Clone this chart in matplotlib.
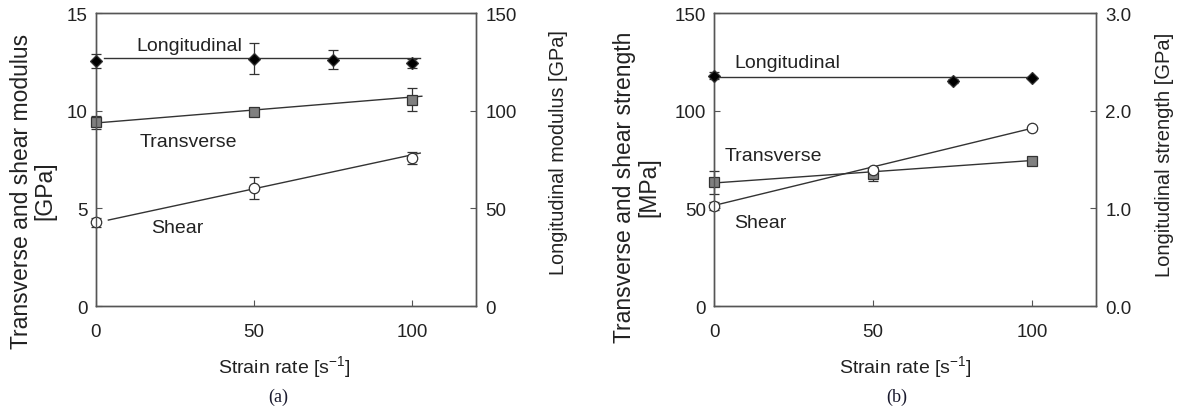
import matplotlib.pyplot as plt
import numpy as np

plt.rcParams['font.family'] = ['Liberation Sans', 'DejaVu Sans']

# ---- data: panel (a) moduli ----
rate = [0, 50, 100]
rate_long = [0, 50, 75, 100]

long_mod = [125.4, 126.6, 126.1, 124.2]        # GPa (right axis)
long_mod_err = [3.5, 7.9, 5.0, 2.5]
trans_mod = [9.40, 9.95, 10.56]                 # GPa (left axis)
trans_mod_err = [0.33, 0.20, 0.60]
shear_mod = [4.28, 6.04, 7.56]
shear_mod_err = [0.22, 0.55, 0.30]

# trend lines (a)
long_mod_fit_x = [2.5, 102.5]
long_mod_fit_y = [127.0, 127.0]
trans_mod_fit_x = [0, 103]
trans_mod_fit_y = [9.37, 10.74]
shear_mod_fit_x = [4, 102.5]
shear_mod_fit_y = [4.40, 7.83]

# ---- data: panel (b) strengths ----
rate_long_b = [0, 75, 100]
long_str = [2.36, 2.30, 2.33]                   # GPa (right axis)
long_str_err = [0.035, 0.02, 0.01]
trans_str = [63.3, 67.6, 74.4]                  # MPa (left axis)
trans_str_err = [6.0, 3.5, 1.0]
shear_str = [51.0, 69.6, 91.1]
shear_str_err = [2.0, 1.0, 0.8]

long_str_fit_x = [0, 100]
long_str_fit_y = [2.34, 2.34]
trans_str_fit_x = [0, 100]
trans_str_fit_y = [63.0, 74.5]
shear_str_fit_x = [0, 100]
shear_str_fit_y = [51.5, 91.0]

xticks = [0, 50, 100]

line_c = '#333333'
spine_c = '#555555'
text_c = '#222222'

fig = plt.figure(figsize=(11.8, 4.1), dpi=100)
ax1 = fig.add_axes([0.0811, 0.2512, 0.3220, 0.7146])
ax2 = fig.add_axes([0.6053, 0.2512, 0.3232, 0.7146])
ax1r = ax1.twinx()
ax2r = ax2.twinx()


def style(ax, axr, ylim, ylim_r, yticks, yticks_r, fmt_r):
    ax.set_xlim(0, 120)
    ax.set_ylim(*ylim)
    axr.set_ylim(*ylim_r)
    ax.set_xticks(xticks)
    ax.set_yticks(yticks)
    axr.set_yticks(yticks_r)
    axr.set_yticklabels([fmt_r % v for v in yticks_r])
    for a in (ax, axr):
        for s in a.spines.values():
            s.set_color(spine_c)
            s.set_linewidth(1.0)
        a.tick_params(direction='in', length=4, width=0.8, color=spine_c,
                      labelsize=13.5, labelcolor=text_c)
    ax.tick_params(axis='x', pad=12)
    ax.tick_params(axis='y', pad=6)
    axr.tick_params(axis='y', pad=7)


def series(ax, x, y, err, marker, fc, ms):
    eb = ax.errorbar(x, y, yerr=err, fmt=marker, ls='none', mfc=fc, mec=line_c,
                     ms=ms, mew=0.9, ecolor=line_c, elinewidth=0.9, capsize=3.5,
                     capthick=0.9, zorder=3)
    for art in eb.get_children():
        art.set_clip_on(False)


# panel (a)
ax1r.plot(long_mod_fit_x, long_mod_fit_y, color=line_c, lw=1.0, zorder=2)
ax1.plot(trans_mod_fit_x, trans_mod_fit_y, color=line_c, lw=1.0, zorder=2)
ax1.plot(shear_mod_fit_x, shear_mod_fit_y, color=line_c, lw=1.0, zorder=2)
series(ax1r, rate_long, long_mod, long_mod_err, 'D', 'black', 6)
series(ax1, rate, trans_mod, trans_mod_err, 's', '#808080', 7)
series(ax1, rate, shear_mod, shear_mod_err, 'o', 'white', 7.5)
style(ax1, ax1r, (0, 15), (0, 150), [0, 5, 10, 15], [0, 50, 100, 150], '%d')

ax1.text(12.75, 13.33, 'Longitudinal', fontsize=14, color=text_c, va='center')
ax1.text(14.0, 8.40, 'Transverse', fontsize=14, color=text_c, va='center')
ax1.text(17.5, 4.04, 'Shear', fontsize=14, color=text_c, va='center')

# panel (b)
ax2r.plot(long_str_fit_x, long_str_fit_y, color=line_c, lw=1.0, zorder=2)
ax2.plot(trans_str_fit_x, trans_str_fit_y, color=line_c, lw=1.0, zorder=2)
ax2.plot(shear_str_fit_x, shear_str_fit_y, color=line_c, lw=1.0, zorder=2)
series(ax2r, rate_long_b, long_str, long_str_err, 'D', 'black', 6)
series(ax2, rate, trans_str, trans_str_err, 's', '#808080', 7)
series(ax2, rate, shear_str, shear_str_err, 'o', 'white', 7.5)
style(ax2, ax2r, (0, 150), (0, 3.0), [0, 50, 100, 150], [0, 1.0, 2.0, 3.0], '%.1f')

ax2.text(6.2, 124.8, 'Longitudinal', fontsize=14, color=text_c, va='center')
ax2.text(3.4, 77.0, 'Transverse', fontsize=14, color=text_c, va='center')
ax2.text(6.2, 43.0, 'Shear', fontsize=14, color=text_c, va='center')

# axis titles
fig.text(0.028, 0.534, 'Transverse and shear modulus\n[GPa]', rotation=90,
         ha='center', va='center', multialignment='center', linespacing=1.05,
         fontsize=16.5, color=text_c)
fig.text(0.4729, 0.629, 'Longitudinal modulus [GPa]', rotation=90,
         ha='center', va='center', fontsize=14.3, color=text_c)
fig.text(0.5394, 0.544, 'Transverse and shear strength\n[MPa]', rotation=90,
         ha='center', va='center', multialignment='center', linespacing=1.05,
         fontsize=16.5, color=text_c)
fig.text(0.987, 0.622, 'Longitudinal strength [GPa]', rotation=90,
         ha='center', va='center', fontsize=14.5, color=text_c)

xlab = r'Strain rate [s$^{\mathregular{-1}}$]'
fig.text(0.2413, 0.1024, xlab, ha='center', va='center', fontsize=14, color=text_c)
fig.text(0.7669, 0.1024, xlab, ha='center', va='center', fontsize=14, color=text_c)

fig.text(0.2356, 0.032, '(a)', ha='center', va='center', fontsize=13,
         family=['Liberation Serif', 'DejaVu Serif'], color='#1a1a2e')
fig.text(0.7599, 0.032, '(b)', ha='center', va='center', fontsize=13,
         family=['Liberation Serif', 'DejaVu Serif'], color='#1a1a2e')

fig.savefig('out.png', dpi=100)
